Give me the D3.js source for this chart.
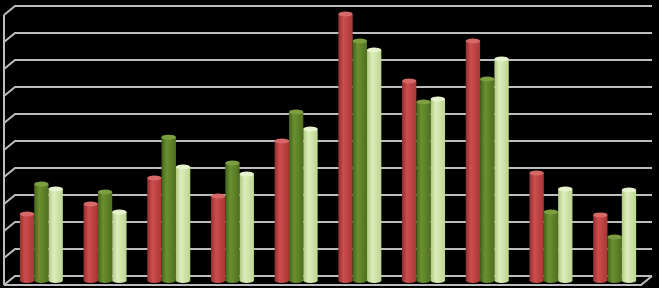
<!DOCTYPE html>
<html>
<head>
<meta charset="utf-8">
<script src="https://cdn.jsdelivr.net/npm/d3@7"></script>
<style>
  html, body { margin: 0; padding: 0; background: #000; }
  svg { display: block; }
</style>
</head>
<body>
<svg id="chart" width="659" height="288"></svg>
<script>
// values (no axis labels in the original, 0..10 gridline units)
const categories = ["1", "2", "3", "4", "5", "6", "7", "8", "9", "10"];
const seriesNames = ["A", "B", "C"];
const seriesA = [2.46, 2.83, 3.80, 3.13, 5.17, 9.87, 7.39, 8.87, 3.98, 2.43];
const seriesB = [3.57, 3.28, 5.31, 4.35, 6.24, 8.87, 6.61, 7.46, 2.54, 1.61];
const seriesC = [3.39, 2.54, 4.20, 3.94, 5.61, 8.54, 6.72, 8.20, 3.39, 3.35];
const gridTicks = d3.range(0, 11);

const colors = {
  A: ["#942e2e", "#cc4e4e", "#aa3636", "#d66868"],
  B: ["#44621a", "#6a9030", "#4f7020", "#7c9e40"],
  C: ["#adc97e", "#dcedbc", "#bcd690", "#e6f3cc"]
};

let svg = d3.select("svg#chart");

// 3d depth offset of the floor / side wall
const depth = { dx: 11, dy: 9 };
const back = { left: 15, right: 652 };

let x0 = d3.scaleBand()
  .domain(categories)
  .range([back.left - depth.dx / 2, back.right - depth.dx / 2])
  .paddingInner(0.325)
  .paddingOuter(0.1625);

let x1 = d3.scaleBand()
  .domain(seriesNames)
  .range([0, x0.bandwidth()]);

// y at mid depth
let y = d3.scaleLinear()
  .domain([0, 10])
  .range([276 + depth.dy / 2, 6 + depth.dy / 2]);

let data = categories.map((c, i) => ({
  cat: c,
  values: [
    { key: "A", v: seriesA[i] },
    { key: "B", v: seriesB[i] },
    { key: "C", v: seriesC[i] }
  ]
}));

// gradients for cylinder shading
let defs = svg.append("defs");
Object.keys(colors).forEach(k => {
  let grad = defs.append("linearGradient")
    .attr("id", "grad" + k)
    .attr("x1", "0%").attr("x2", "100%");
  grad.append("stop").attr("offset", "0%").attr("stop-color", colors[k][0]);
  grad.append("stop").attr("offset", "35%").attr("stop-color", colors[k][1]);
  grad.append("stop").attr("offset", "100%").attr("stop-color", colors[k][2]);
});

// walls and gridlines
let grid = svg.append("g")
  .attr("stroke", "#bdbdbd")
  .attr("stroke-width", 2)
  .attr("fill", "none");

grid.selectAll(".gridline")
  .data(gridTicks)
  .enter()
  .append("path")
  .attr("class", "gridline")
  .attr("d", d => {
    let gy = y(d) - depth.dy / 2;
    return `M${back.left - depth.dx},${gy + depth.dy}L${back.left},${gy}L${back.right},${gy}`;
  });

// left wall edge
grid.append("line")
  .attr("x1", back.left - depth.dx).attr("x2", back.left - depth.dx)
  .attr("y1", y(10) + depth.dy / 2).attr("y2", y(0) + depth.dy / 2);

// floor front edge
grid.append("path")
  .attr("d", `M${back.left - depth.dx},${y(0) + depth.dy / 2}L${back.right - depth.dx},${y(0) + depth.dy / 2}L${back.right},${y(0) - depth.dy / 2}`);

// bars as cylinders
let group = svg.selectAll(".group")
  .data(data)
  .enter()
  .append("g")
  .attr("class", "group")
  .attr("transform", d => `translate(${x0(d.cat)},0)`);

let bar = group.selectAll(".bar")
  .data(d => d.values)
  .enter()
  .append("g")
  .attr("class", "bar");

const ry = 2.5;

bar.append("ellipse")
  .attr("cx", d => x1(d.key) + x1.bandwidth() / 2)
  .attr("cy", y(0))
  .attr("rx", x1.bandwidth() / 2)
  .attr("ry", ry)
  .attr("fill", d => `url(#grad${d.key})`);

bar.append("rect")
  .attr("x", d => x1(d.key))
  .attr("y", d => y(d.v))
  .attr("width", x1.bandwidth())
  .attr("height", d => y(0) - y(d.v))
  .attr("fill", d => `url(#grad${d.key})`);

bar.append("ellipse")
  .attr("cx", d => x1(d.key) + x1.bandwidth() / 2)
  .attr("cy", d => y(d.v))
  .attr("rx", x1.bandwidth() / 2)
  .attr("ry", ry)
  .attr("fill", d => colors[d.key][3]);
</script>
</body>
</html>
